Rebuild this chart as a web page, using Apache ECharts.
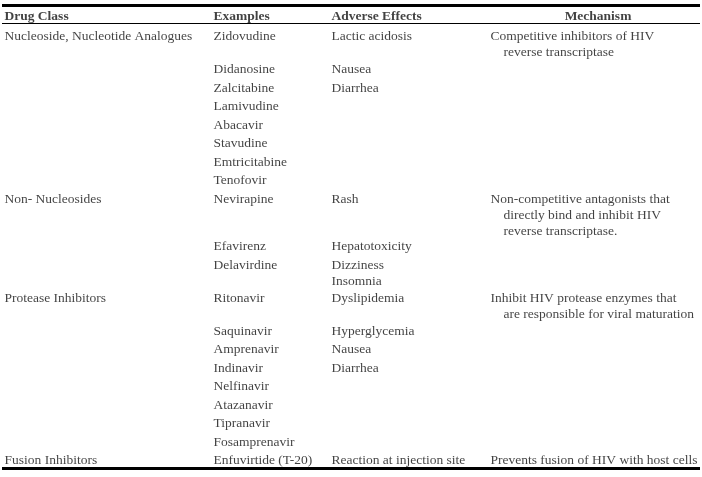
<!DOCTYPE html>
<html>
<head>
<meta charset="utf-8">
<script src="https://cdn.jsdelivr.net/npm/echarts@6/dist/echarts.min.js"></script>
<style>html,body{margin:0;padding:0;background:#fff}#c{width:702px;height:477px}</style>
</head>
<body>
<div id="c"></div>
<script>
// ---- table content ----
const headers = ['Drug Class', 'Examples', 'Adverse Effects', 'Mechanism'];
const drugClasses = ['Nucleoside, Nucleotide Analogues', 'Non- Nucleosides', 'Protease Inhibitors', 'Fusion Inhibitors'];
const examplesByClass = [
  ['Zidovudine', 'Didanosine', 'Zalcitabine', 'Lamivudine', 'Abacavir', 'Stavudine', 'Emtricitabine', 'Tenofovir'],
  ['Nevirapine', 'Efavirenz', 'Delavirdine'],
  ['Ritonavir', 'Saquinavir', 'Amprenavir', 'Indinavir', 'Nelfinavir', 'Atazanavir', 'Tipranavir', 'Fosamprenavir'],
  ['Enfuvirtide (T-20)']
];
const adverseByClass = [
  [['Lactic acidosis'], ['Nausea'], ['Diarrhea']],
  [['Rash'], ['Hepatotoxicity'], ['Dizziness', 'Insomnia']],
  [['Dyslipidemia'], ['Hyperglycemia'], ['Nausea'], ['Diarrhea']],
  [['Reaction at injection site']]
];
const mechanismByClass = [
  ['Competitive inhibitors of HIV', 'reverse transcriptase'],
  ['Non-competitive antagonists that', 'directly bind and inhibit HIV', 'reverse transcriptase.'],
  ['Inhibit HIV protease enzymes that', 'are responsible for viral maturation'],
  ['Prevents fusion of HIV with host cells']
];

// ---- layout (styling constants) ----
const W = 702, H = 477;
const colX = [4, 213, 331, 490];
const indent = 13;
const mechHeaderX = 598;
const headerY = 16.5;
const firstRowY = 36.5;
const linePitch = 16;
const rowPitch = 18.5;
const extraLineAdvance = 14.5;
const FONT = '"Liberation Serif", "Times New Roman", serif';

const items = [];
function addText(text, x, y, opts) {
  items.push(Object.assign({ name: text, value: [x, y] }, opts || {}));
}
// headers
headers.forEach((h, i) => {
  if (i === 3) {
    addText(h, mechHeaderX, headerY, { label: { position: 'inside', align: 'center', fontWeight: 'bold' } });
  } else {
    addText(h, colX[i], headerY, { label: { fontWeight: 'bold' } });
  }
});
// body
let y = firstRowY;
drugClasses.forEach((cls, g) => {
  const ex = examplesByClass[g];
  ex.forEach((e, i) => {
    let lines = 1;
    if (i === 0) {
      addText(cls, colX[0], y);
      const mech = mechanismByClass[g];
      mech.forEach((m, k) => addText(m, colX[3] + (k ? indent : 0), y + k * linePitch));
      lines = Math.max(lines, mech.length);
    }
    addText(e, colX[1], y);
    const adv = adverseByClass[g][i];
    if (adv) {
      adv.forEach((a, k) => addText(a, colX[2], y + k * linePitch));
      lines = Math.max(lines, adv.length);
    }
    y += rowPitch + extraLineAdvance * (lines - 1);
  });
});

const rules = [
  { y: 5, w: 3 },
  { y: 23.5, w: 1.2 },
  { y: 468, w: 3 }
];

const chart = echarts.init(document.getElementById('c'), null, { renderer: 'canvas' });
chart.setOption({
  animation: false,
  backgroundColor: '#ffffff',
  grid: { left: 0, right: 0, top: 0, bottom: 0 },
  xAxis: { type: 'value', min: 0, max: W, show: false },
  yAxis: { type: 'value', min: 0, max: H, inverse: true, show: false },
  series: [{
    type: 'scatter',
    symbolSize: 1,
    silent: true,
    itemStyle: { color: 'rgba(0,0,0,0)' },
    label: {
      show: true,
      formatter: '{b}',
      position: 'right',
      distance: 0,
      verticalAlign: 'middle',
      color: '#111',
      fontFamily: FONT,
      fontSize: 13.5
    },
    data: items,
    markLine: {
      silent: true,
      symbol: 'none',
      label: { show: false },
      data: rules.map(r => [
        { coord: [2, r.y], lineStyle: { color: '#000', width: r.w, type: 'solid' } },
        { coord: [700, r.y] }
      ])
    }
  }]
});
</script>
</body>
</html>
